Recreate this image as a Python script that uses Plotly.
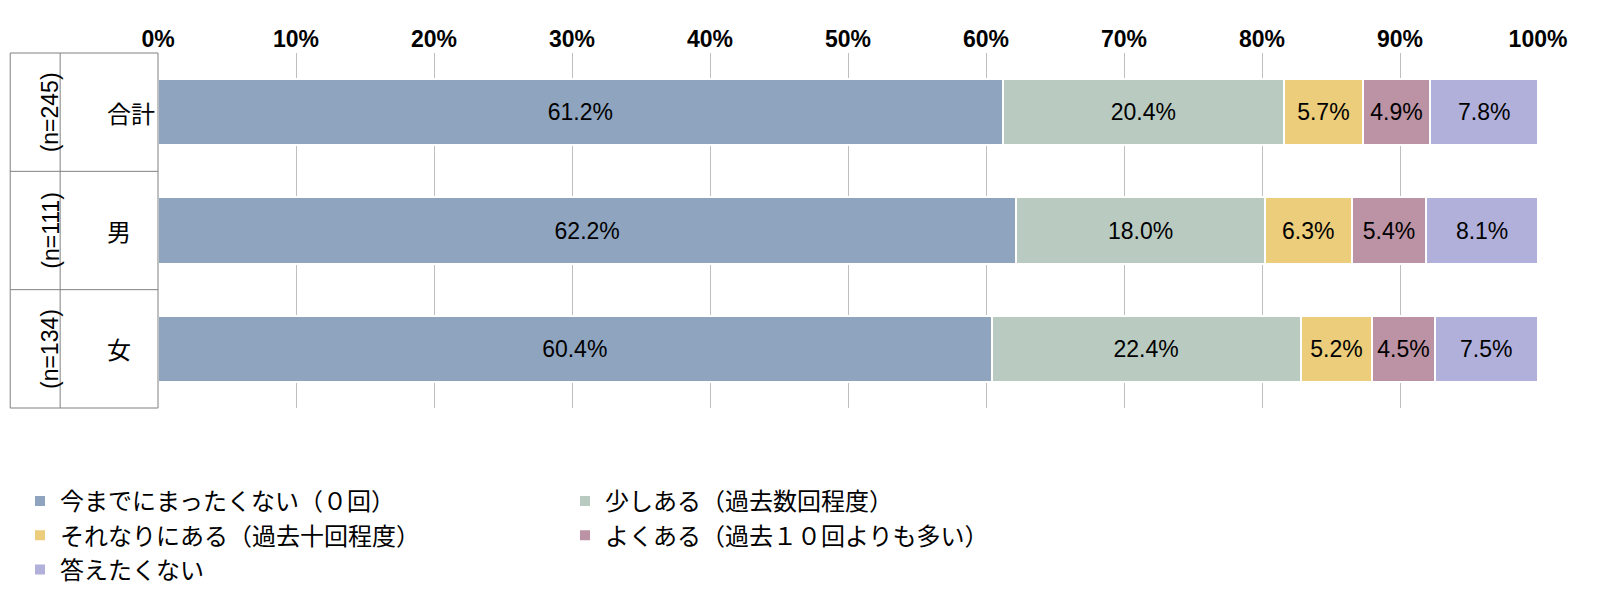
import plotly.graph_objects as go

groups = ["合計", "男", "女"]
counts = ["(n=245)", "(n=111)", "(n=134)"]
series = ["今までにまったくない（０回）", "少しある（過去数回程度）", "それなりにある（過去十回程度）",
          "よくある（過去１０回よりも多い）", "答えたくない"]
values = [
    [61.2, 62.2, 60.4],
    [20.4, 18.0, 22.4],
    [5.7, 6.3, 5.2],
    [4.9, 5.4, 4.5],
    [7.8, 8.1, 7.5],
]
colors = ["#8FA5BF", "#B9CBC1", "#EBCD7B", "#BC93A5", "#B1B0DA"]

fig = go.Figure()
for name, vals, c in zip(series, values, colors):
    fig.add_trace(go.Bar(
        y=groups, x=vals, name=name, orientation="h", width=0.56,
        marker=dict(color=c, line=dict(color="white", width=2)),
        text=[f"{v:.1f}%" for v in vals], textposition="inside",
        insidetextanchor="middle", textfont=dict(size=23, color="black"),
    ))

W = 1382
fig.update_layout(
    barmode="stack", width=1600, height=596,
    margin=dict(l=148, r=70, t=45, b=184),
    plot_bgcolor="white", paper_bgcolor="white",
    font=dict(family="Liberation Sans, Noto Sans CJK JP", size=22, color="black"),
    xaxis=dict(range=[0, 100], side="top", tickvals=list(range(0, 101, 10)),
               ticktext=[f"<b>{v}%</b>" for v in range(0, 101, 10)],
               showgrid=True, gridcolor="#BFBFBF", gridwidth=1, zeroline=False,
               tickfont=dict(size=23), fixedrange=True),
    yaxis=dict(autorange="reversed", showticklabels=False, showgrid=False),
    legend=dict(orientation="h", x=-0.1, xanchor="left", y=-0.2, yanchor="top",
                entrywidth=500, font=dict(size=24, family="Noto Sans CJK JP"),
                traceorder="normal", itemsizing="constant"),
    showlegend=True,
)

for i, (g, n) in enumerate(zip(groups, counts)):
    fig.add_annotation(x=(95 - 148) / W, xref="paper", y=g, yref="y", text=g,
                       showarrow=False, font=dict(size=24, family="Noto Sans CJK JP"))
    fig.add_annotation(x=(25 - 148) / W, xref="paper", y=g, yref="y", text=n,
                       textangle=-90, showarrow=False, font=dict(size=23))

line = dict(color="#808080", width=1)
x0 = -148 / W
x1 = 0
xm = (50 - 148) / W
fig.add_shape(type="rect", xref="paper", yref="paper", x0=x0, x1=x1, y0=0, y1=1, line=line)
fig.add_shape(type="line", xref="paper", yref="paper", x0=xm, x1=xm, y0=0, y1=1, line=line)
for y in [1 / 3, 2 / 3]:
    fig.add_shape(type="line", xref="paper", yref="paper", x0=x0, x1=x1, y0=y, y1=y, line=line)

fig.write_html("out.html")
